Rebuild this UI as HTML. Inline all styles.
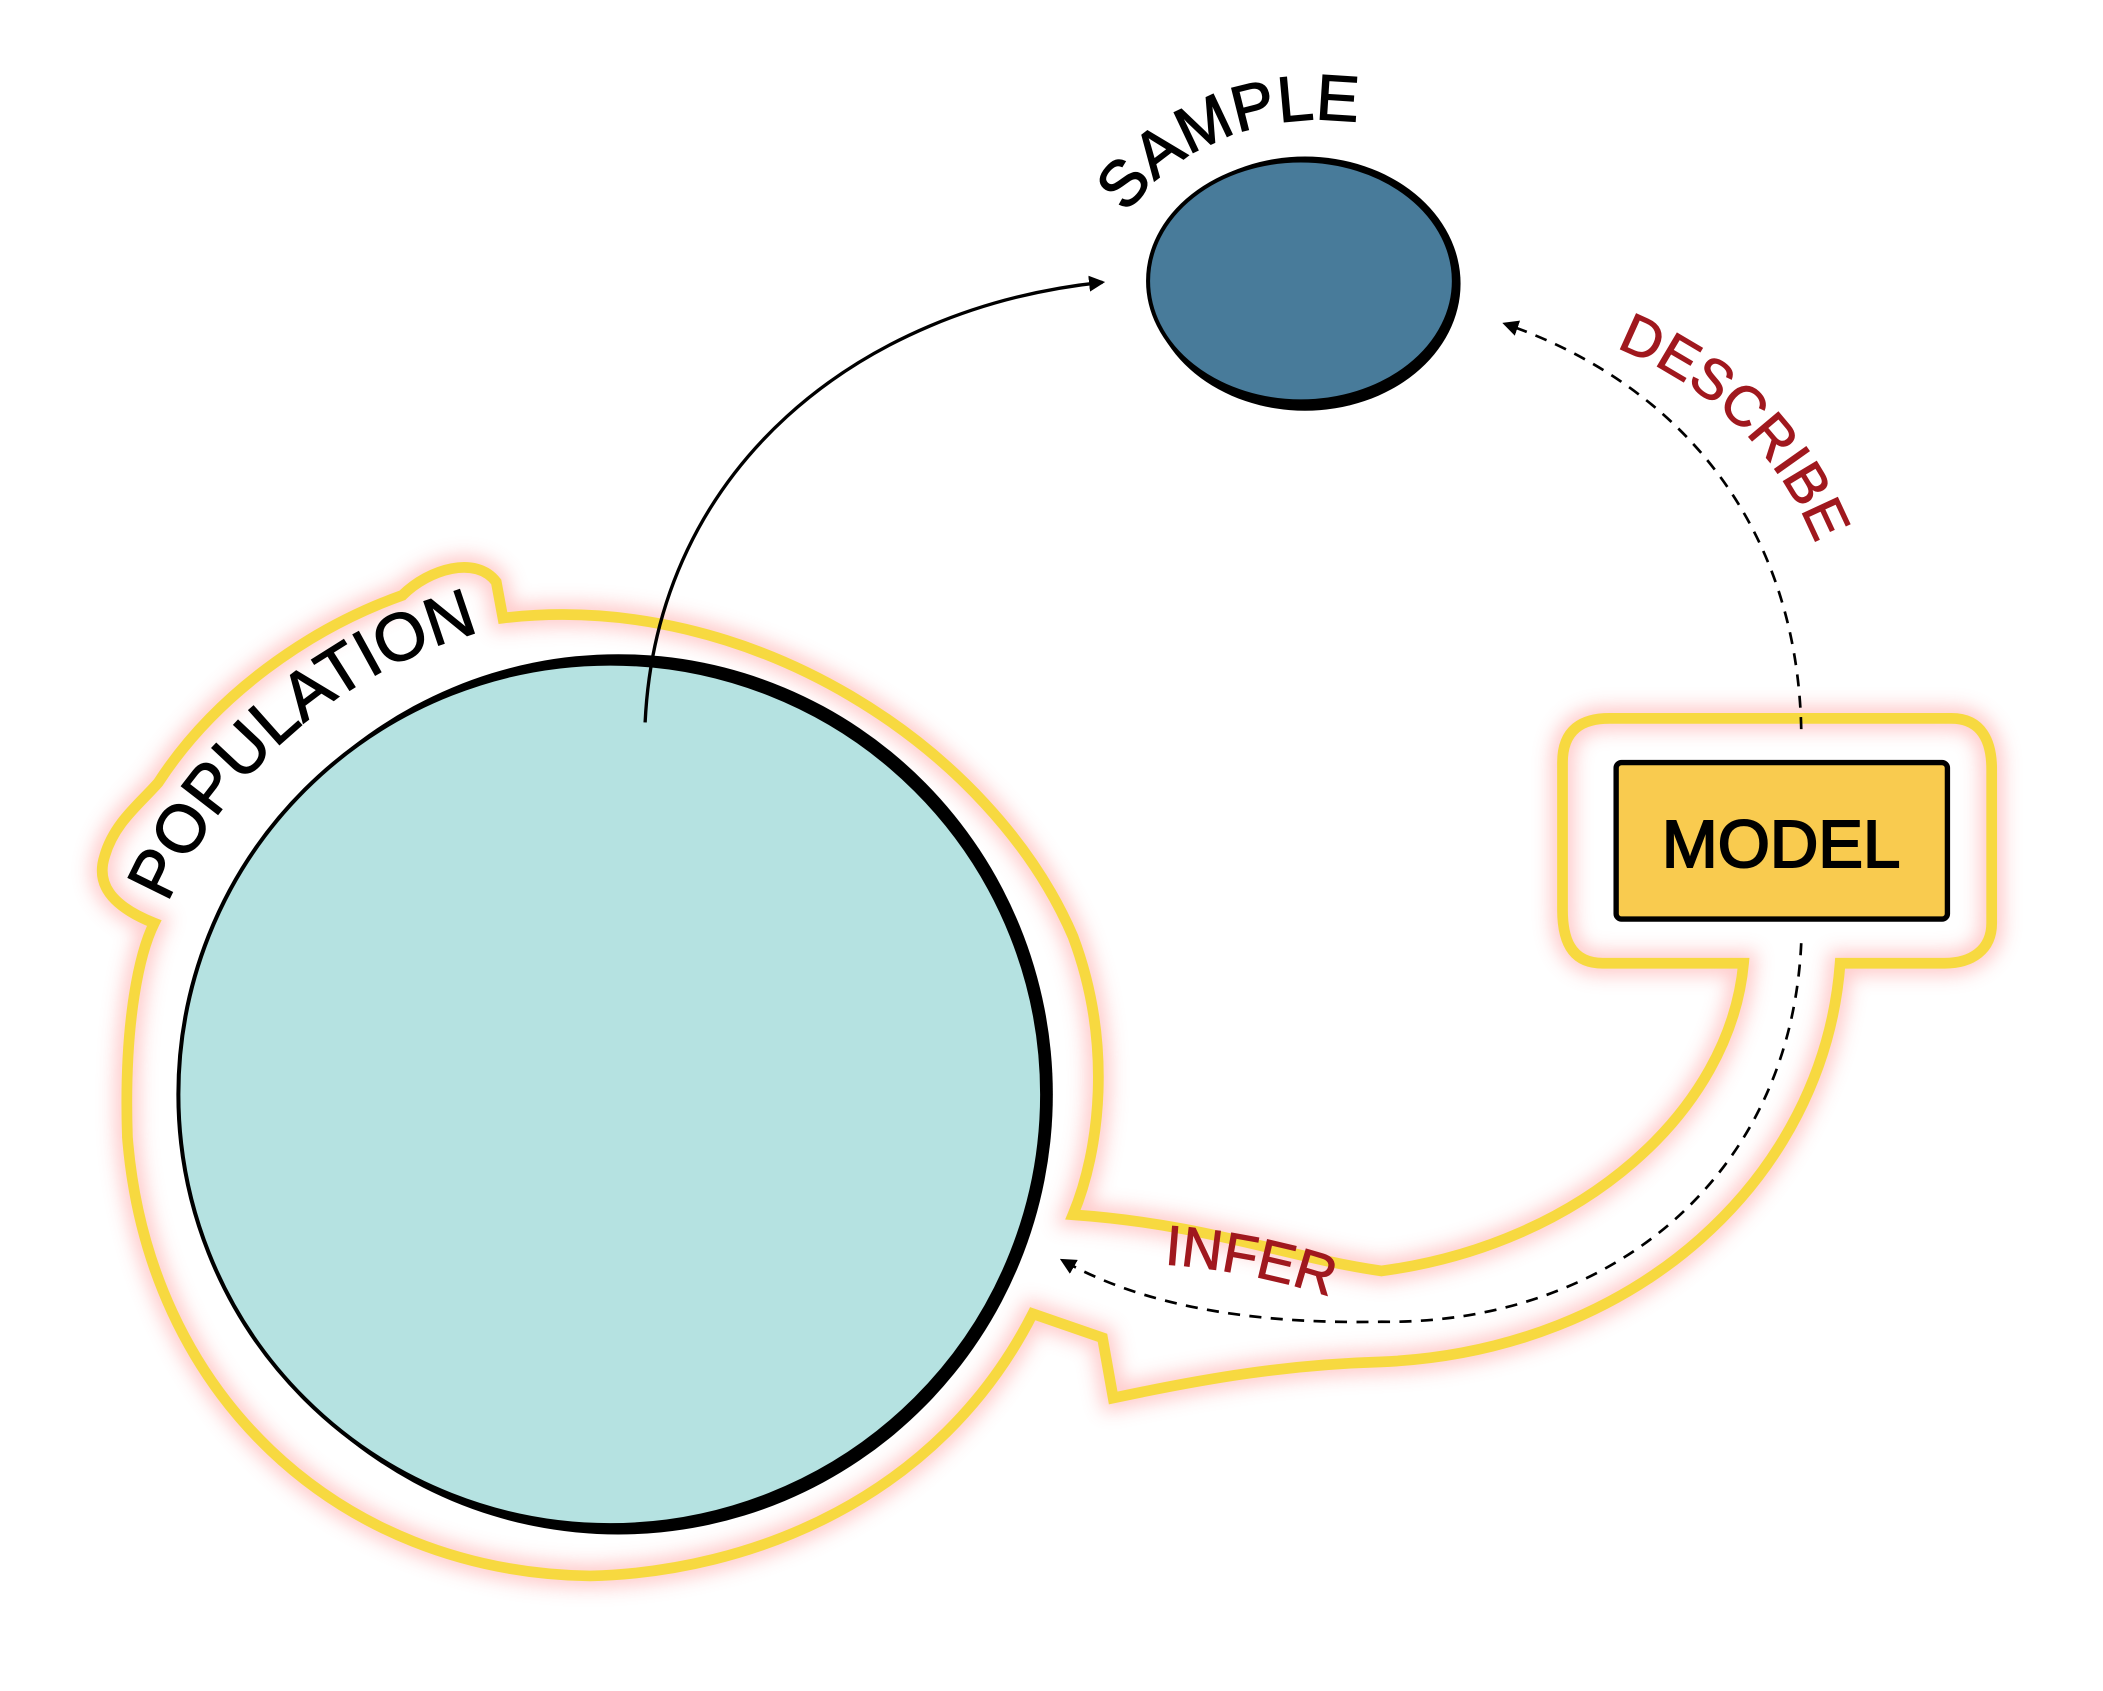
<!DOCTYPE html>
<html><head><meta charset="utf-8"><style>
html,body{margin:0;padding:0;background:#fff;}
svg{display:block}
text{font-family:"Liberation Sans",sans-serif;}
</style></head><body>
<svg width="2103" height="1691" viewBox="0 0 1568 1264" preserveAspectRatio="none" xmlns="http://www.w3.org/2000/svg">
<defs>
<filter id="glow" x="-20%" y="-20%" width="140%" height="140%"><feGaussianBlur stdDeviation="7"/></filter>
<marker id="ah" markerWidth="12" markerHeight="12" refX="10" refY="6" orient="auto" markerUnits="userSpaceOnUse"><path d="M0,0 L12,6 L0,12 Z" fill="#000"/></marker>
<path id="popArc" d="M 125 675 A 360 360 0 0 1 390 465"/>
<path id="sampArc" d="M 840 160 A 170 150 0 0 1 1030 95"/>
<path id="descArc" d="M 1205 260 A 260 260 0 0 1 1362 430"/>
<path id="inferArc" d="M 868 945 Q 940 950 1008 975"/>
</defs>
<g>
<path d="M 375 462 C 560 440 740 560 800 700 C 830 780 820 860 800 908 C 900 915 960 940 1030 950 C 1180 930 1290 830 1300 720 L 1195 720 C 1170 720 1165 700 1165 680 L 1165 570 C 1165 545 1180 537 1200 537 L 1455 537 C 1478 537 1485 555 1485 575 L 1485 690 C 1485 710 1470 720 1450 720 L 1372 720 C 1360 880 1220 1010 1030 1018 C 960 1020 900 1030 830 1045 L 822 1000 L 770 982 C 700 1120 560 1175 440 1178 C 250 1175 110 1040 95 850 C 92 760 105 710 115 690 C 90 680 70 665 78 640 C 85 615 105 600 118 585 C 160 520 230 470 300 445 C 320 425 355 415 370 435 Z" fill="none" stroke="#ff8c8c" stroke-width="18" opacity="0.45" filter="url(#glow)"/>
<path d="M 375 462 C 560 440 740 560 800 700 C 830 780 820 860 800 908 C 900 915 960 940 1030 950 C 1180 930 1290 830 1300 720 L 1195 720 C 1170 720 1165 700 1165 680 L 1165 570 C 1165 545 1180 537 1200 537 L 1455 537 C 1478 537 1485 555 1485 575 L 1485 690 C 1485 710 1470 720 1450 720 L 1372 720 C 1360 880 1220 1010 1030 1018 C 960 1020 900 1030 830 1045 L 822 1000 L 770 982 C 700 1120 560 1175 440 1178 C 250 1175 110 1040 95 850 C 92 760 105 710 115 690 C 90 680 70 665 78 640 C 85 615 105 600 118 585 C 160 520 230 470 300 445 C 320 425 355 415 370 435 Z" fill="none" stroke="#f7d940" stroke-width="8"/>
</g>
<ellipse cx="461" cy="818" rx="324" ry="329" fill="#000"/>
<ellipse cx="455" cy="818" rx="322" ry="322" fill="#b5e2e1" stroke="#000" stroke-width="3"/>
<ellipse cx="973" cy="212" rx="116" ry="95" fill="#000"/>
<ellipse cx="970" cy="210" rx="114" ry="90" fill="#487b9a" stroke="#000" stroke-width="3"/>
<path d="M 481 540 C 490 350 640 230 822 211" fill="none" stroke="#000" stroke-width="2.5" marker-end="url(#ah)"/>
<path d="M 1343 545 C 1340 400 1260 290 1122 242" fill="none" stroke="#000" stroke-width="2" stroke-dasharray="9 7" marker-end="url(#ah)"/>
<path d="M 1343 705 C 1335 880 1200 990 1030 988 C 930 990 850 975 792 942" fill="none" stroke="#000" stroke-width="2" stroke-dasharray="9 7" marker-end="url(#ah)"/>
<rect x="1205" y="570" width="247" height="117" rx="4" fill="#f9cb4f" stroke="#000" stroke-width="4"/>
<text x="1328" y="648" text-anchor="middle" font-size="50" fill="#000" stroke="#000" stroke-width="1.5">MODEL</text>
<text font-size="50" fill="#000" stroke="#000" stroke-width="1"><textPath href="#popArc">POPULATION</textPath></text>
<text font-size="48" fill="#000" stroke="#000" stroke-width="1"><textPath href="#sampArc">SAMPLE</textPath></text>
<text font-size="42" fill="#a0181e" stroke="#a0181e" stroke-width="0.8"><textPath href="#descArc">DESCRIBE</textPath></text>
<text font-size="42" fill="#a0181e" stroke="#a0181e" stroke-width="0.8"><textPath href="#inferArc">INFER</textPath></text>
</svg>
</body></html>
